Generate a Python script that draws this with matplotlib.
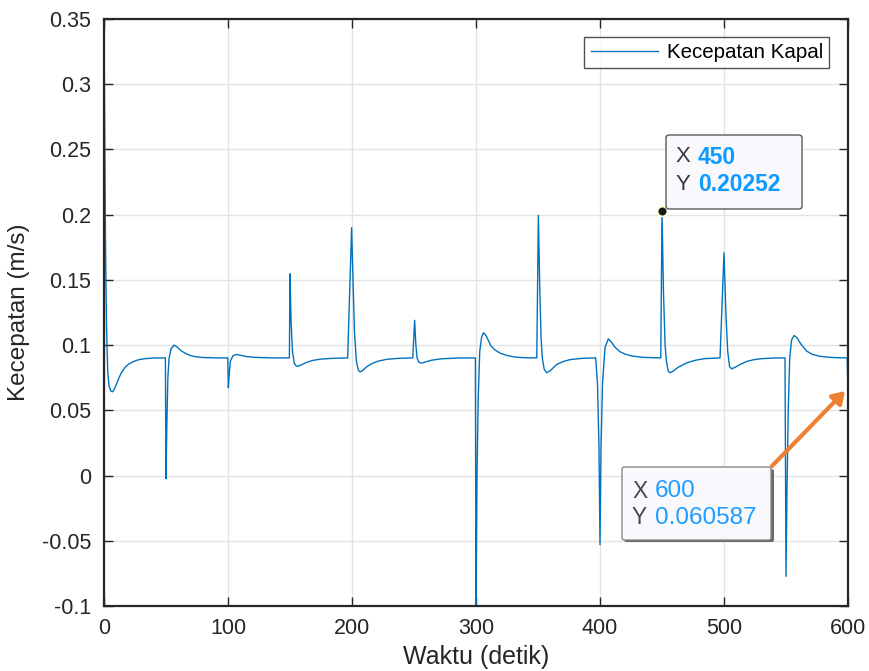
import matplotlib
matplotlib.use("Agg")
import matplotlib.pyplot as plt
from matplotlib.patches import FancyBboxPatch, FancyArrowPatch

plt.rcParams['font.family'] = ['Liberation Sans', 'DejaVu Sans']

# ---- data ----
time_s = [
    0, 0.5, 1.2, 2, 3, 4, 5.5, 6.7, 8, 10, 12, 14, 17, 20, 24, 28, 33, 40, 49.5,
    50, 50.7, 51.5, 52.5, 54, 56.5, 59, 62, 65, 69, 74, 80, 90, 99.8,
    100.3, 101, 102, 104, 106.5, 110, 115, 122, 135, 149.5,
    150, 150.8, 152, 153.5, 155, 156.5, 159, 163, 168, 175, 185, 196.5,
    199.7, 200.8, 202, 203.5, 205, 206.5, 208.5, 212, 216, 221, 228, 238, 249,
    250.5, 251.5, 252.5, 254, 256, 259, 264, 272, 285, 299.5,
    300, 300.8, 301.8, 303, 304.5, 306, 308, 310, 312, 315, 320, 326, 332, 340, 349,
    350.3, 351.5, 352.5, 353.5, 355, 357, 360, 365, 370, 376, 385, 396.5,
    398, 399.2, 400, 400.8, 402, 404, 406.7, 409, 412, 416, 420, 426, 435, 449,
    450, 451.2, 452.5, 453.5, 455, 456.5, 459, 463, 470, 477, 484, 496.8,
    500, 501.5, 503, 504.5, 506.2, 509, 513, 518.5, 524, 530, 540, 549.2,
    550, 550.8, 551.8, 553, 554.5, 556.5, 559, 562, 566.7, 571, 577, 583, 590, 599.4,
    600,
]
speed_ms = [
    0.341, 0.27, 0.18, 0.115, 0.08, 0.069, 0.0648, 0.0642, 0.0655, 0.070, 0.0748, 0.0788, 0.083, 0.0855, 0.0875, 0.0888, 0.0896, 0.0901, 0.0902,
    -0.0025, 0.04, 0.075, 0.09, 0.097, 0.1000, 0.0985, 0.0958, 0.094, 0.0922, 0.091, 0.0905, 0.0902, 0.0902,
    0.0673, 0.078, 0.088, 0.0918, 0.0928, 0.0922, 0.0912, 0.0906, 0.0902, 0.0902,
    0.1547, 0.12, 0.095, 0.086, 0.0840, 0.0838, 0.0848, 0.0866, 0.0882, 0.0893, 0.0899, 0.0902,
    0.19, 0.15, 0.11, 0.088, 0.081, 0.0795, 0.0805, 0.0835, 0.0858, 0.0877, 0.0891, 0.0899, 0.0902,
    0.119, 0.10, 0.09, 0.0868, 0.0862, 0.0870, 0.0884, 0.0895, 0.0901, 0.0902,
    -0.108, 0.0, 0.06, 0.095, 0.106, 0.1095, 0.1075, 0.1035, 0.0995, 0.0965, 0.0936, 0.0918, 0.0908, 0.0903, 0.0902,
    0.1994, 0.14, 0.105, 0.09, 0.0815, 0.0788, 0.0805, 0.0851, 0.0873, 0.0889, 0.0898, 0.0902,
    0.07, 0.02, -0.053, 0.02, 0.07, 0.098, 0.1048, 0.1025, 0.0985, 0.0950, 0.0932, 0.0916, 0.0906, 0.0902,
    0.20252, 0.14, 0.10, 0.088, 0.080, 0.0788, 0.0800, 0.0830, 0.0864, 0.0884, 0.0896, 0.0902,
    0.1708, 0.125, 0.095, 0.0835, 0.0818, 0.0830, 0.0852, 0.0875, 0.0888, 0.0896, 0.0901, 0.0902,
    -0.0772, -0.01, 0.05, 0.09, 0.104, 0.1074, 0.1055, 0.1008, 0.0954, 0.0930, 0.0915, 0.0908, 0.0904, 0.0902,
    0.060587,
]
x_ticks = [0, 100, 200, 300, 400, 500, 600]
y_ticks = [-0.1, -0.05, 0, 0.05, 0.1, 0.15, 0.2, 0.25, 0.3, 0.35]
y_tick_labels = ['-0.1', '-0.05', '0', '0.05', '0.1', '0.15', '0.2', '0.25', '0.3', '0.35']
series_label = 'Kecepatan Kapal'
tip1_x, tip1_y = 450, 0.20252
tip2_x, tip2_y = 600, 0.060587

W, H = 870, 671
fig = plt.figure(figsize=(W / 100, H / 100), dpi=100)
ax = fig.add_axes([104 / W, 1 - 606 / H, 744 / W, 587 / H])

dark = '#262626'
ax.plot(time_s, speed_ms, color='#0072BD', lw=1.0, label=series_label)
ax.set_xlim(0, 600)
ax.set_ylim(-0.1, 0.35)
ax.set_xticks(x_ticks)
ax.set_yticks(y_ticks)
ax.set_yticklabels(y_tick_labels)
ax.grid(True, color='#e3e3e3', lw=1.0)
ax.set_axisbelow(True)
ax.tick_params(direction='in', length=6.5, width=1.0, colors=dark, labelsize=15.5,
               top=True, right=True, pad=9)
for sp in ax.spines.values():
    sp.set_color(dark)
    sp.set_linewidth(1.6)
ax.set_xlabel('Waktu (detik)', fontsize=18, color=dark, labelpad=4)
ax.set_ylabel('Kecepatan (m/s)', fontsize=17.5, color=dark, labelpad=9)

leg = ax.legend(loc='upper right', bbox_to_anchor=(829 / W, 1 - 37 / H),
                bbox_transform=fig.transFigure, fontsize=14.8, frameon=True,
                fancybox=False, edgecolor=dark, handlelength=3.3, borderpad=0.3,
                handletextpad=0.4, borderaxespad=0)
leg.get_frame().set_linewidth(1.0)
for t in leg.get_texts():
    t.set_color('black')

# data tip marker
ax.plot([tip1_x], [tip1_y], 'o', ms=7, mfc='#1a1a1a', mec='#ffffcc', mew=1.2, zorder=5,
        clip_on=False)

def fx(px):
    return px / W

def fy(py):
    return 1 - py / H

# data tip 1 box
b1 = FancyBboxPatch((fx(666), fy(209)), fx(802) - fx(666), fy(135) - fy(209),
                    boxstyle='round,pad=0,rounding_size=0.004', transform=fig.transFigure,
                    fc='#f8f8fd', ec='#5a5a5a', lw=1.0, zorder=10)
fig.add_artist(b1)
fig.text(fx(676), fy(157), 'X', fontsize=16, color='#3c3c3c', va='center', ha='left', zorder=11)
fig.text(fx(698), fy(157), f'{tip1_x}', fontsize=16.5, color='#0d9bff', fontweight='bold',
         va='center', ha='left', zorder=11)
fig.text(fx(676), fy(184), 'Y', fontsize=16, color='#3c3c3c', va='center', ha='left', zorder=11)
fig.text(fx(698), fy(184), f'{tip1_y:.5f}', fontsize=16.5, color='#0d9bff', fontweight='bold',
         va='center', ha='left', zorder=11)

# data tip 2 box (with shadow)
sh = FancyBboxPatch((fx(624), fy(542)), fx(774) - fx(624), fy(469) - fy(542),
                    boxstyle='round,pad=0,rounding_size=0.003', transform=fig.transFigure,
                    fc='#444444', ec='none', lw=0, zorder=9, alpha=0.8)
fig.add_artist(sh)
b2 = FancyBboxPatch((fx(622), fy(540)), fx(771) - fx(622), fy(467) - fy(540),
                    boxstyle='round,pad=0,rounding_size=0.003', transform=fig.transFigure,
                    fc='#f8f8fd', ec='#8a8a8a', lw=1.0, zorder=10)
fig.add_artist(b2)
fig.text(fx(632), fy(491), 'X', fontsize=16.5, color='#4a4a4a', va='center', ha='left', zorder=11)
fig.text(fx(655), fy(491), f'{tip2_x}', fontsize=17.5, color='#1e9cff',
         va='center', ha='left', zorder=11)
fig.text(fx(632), fy(518), 'Y', fontsize=16.5, color='#4a4a4a', va='center', ha='left', zorder=11)
fig.text(fx(655), fy(518), f'{tip2_y:.6f}'.rstrip('0'), fontsize=17.5, color='#1e9cff',
         va='center', ha='left', zorder=11)

arr = FancyArrowPatch((fx(772), fy(466)), (fx(845), fy(391)), transform=fig.transFigure,
                      arrowstyle='-|>,head_length=7,head_width=4.5', color='#ee8033',
                      lw=3.0, zorder=12, shrinkA=0, shrinkB=0)
fig.add_artist(arr)

fig.savefig('out.png', dpi=100, facecolor='white')
